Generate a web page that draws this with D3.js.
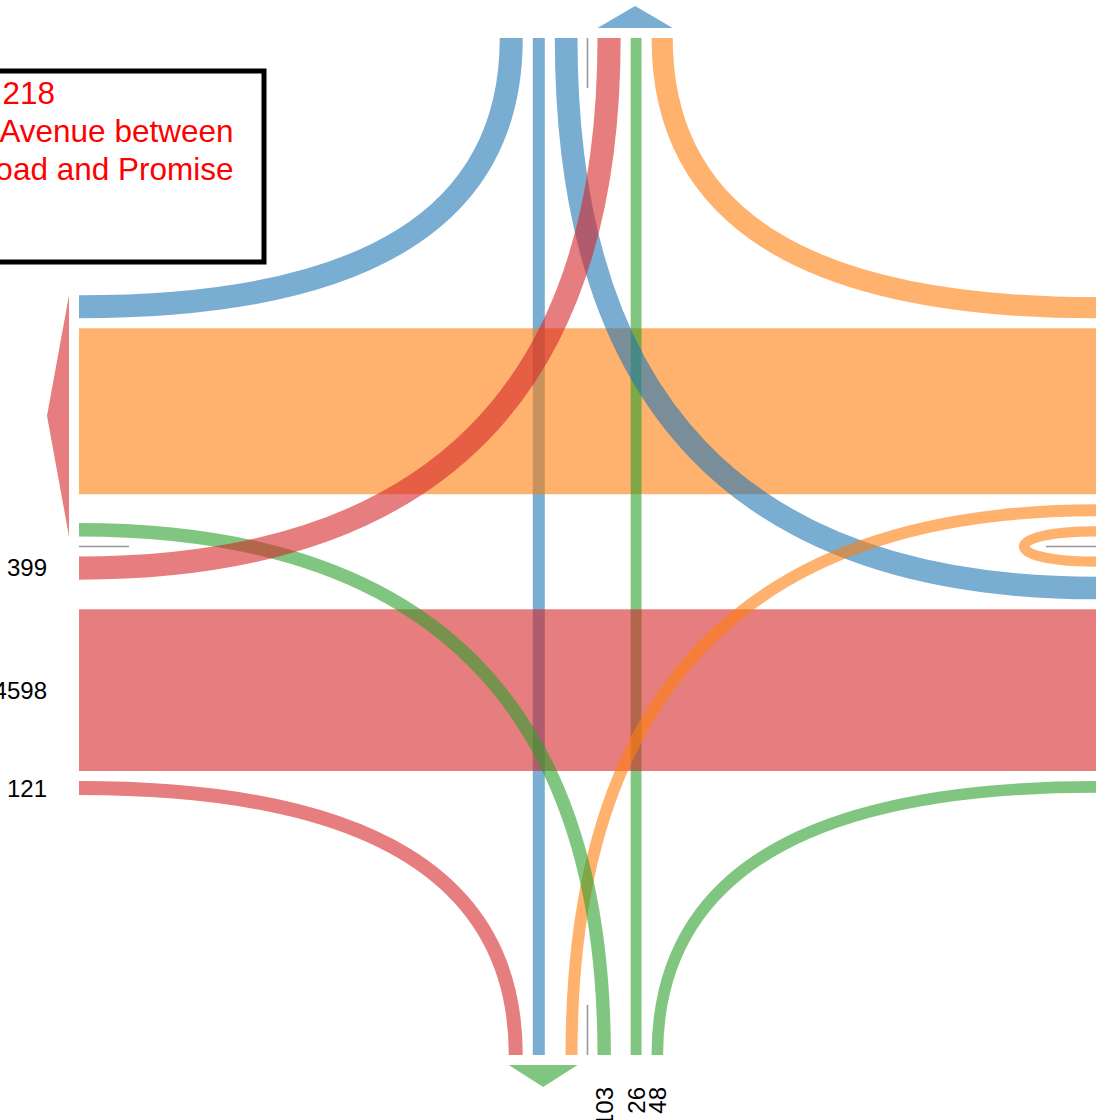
<!DOCTYPE html>
<html>
<head>
<meta charset="utf-8">
<script src="https://cdn.jsdelivr.net/npm/d3@7"></script>
<style>
html,body{margin:0;padding:0;background:#fff;overflow:hidden}
svg{display:block}
</style>
</head>
<body>
<svg id="chart" width="1102" height="1120"></svg>
<script>
// ---- data ----
const approaches = ["North", "East", "South", "West"];
const approachColors = ["#1f77b4", "#ff7f0e", "#2ca02c", "#d62728"];
const movements = ["U-turn", "Left", "Through", "Right"];
const northVolumes = [0, 385, 61, 395];
const eastVolumes = [5, 60, 4730, 340];
const southVolumes = [0, 103, 26, 48];
const westVolumes = [0, 399, 4598, 121];
const titleLines = ["218", "Avenue between", "Road and Promise"];

// ---- layout ----
const svg = d3.select("#chart");
const cx = 587.5, cy = 546.5, half = 508.5;
const X0 = cx - half, X1 = cx + half, Y0 = cy - half, Y1 = cy + half;
const pad = 10, uDepth = 96, arrowGap = 10, arrowLen = 22;
const labelGaps = [40, 32, 32, 32];
const widthScale = d3.scaleLinear().domain([0, 1000]).range([10, 43]);
const volumes = [northVolumes, eastVolumes, southVolumes, westVolumes];

const F = volumes.map((vals, a) => vals.map((v, k) => ({
  a, k, v, d: (a + k) % 4, w: v > 0 ? widthScale(v) : 0, inOff: 0, outOff: 0
})));

for (let a = 0; a < 4; a++) {
  const o = (a + 2) % 4;
  const inF = k => F[a][k];
  const outF = k => F[(o - k + 4) % 4][k];
  let offIn = pad, offOut = pad;
  for (const k of [0, 1]) {
    const fi = inF(k); if (fi.w > 0) { fi.inOff = offIn; offIn += fi.w + pad; }
    const fo = outF(k); if (fo.w > 0) { fo.outOff = offOut; offOut += fo.w + pad; }
  }
  const T = Math.max(offIn, offOut);
  const th = inF(2); th.inOff = T; th.outOff = T;
  const R = T + th.w + pad;
  inF(3).inOff = R; outF(3).outOff = R;
}

function edgePoint(edge, side, off) {
  switch (edge) {
    case 0: return side === "in" ? [cx - off, Y0] : [cx + off, Y0];
    case 1: return side === "in" ? [X1, cy - off] : [X1, cy + off];
    case 2: return side === "in" ? [cx + off, Y1] : [cx - off, Y1];
    default: return side === "in" ? [X0, cy + off] : [X0, cy - off];
  }
}
const inward = [[0, 1], [-1, 0], [0, -1], [1, 0]];
const outward = inward.map(([x, y]) => [-x, -y]);

function flowPath(f) {
  const p = edgePoint(f.a, "in", f.inOff + f.w / 2);
  const q = edgePoint(f.d, "out", f.outOff + f.w / 2);
  const path = d3.path();
  path.moveTo(p[0], p[1]);
  if (f.k === 2) path.lineTo(q[0], q[1]);
  else if (f.k === 0) {
    const [dx, dy] = inward[f.a];
    path.bezierCurveTo(p[0] + dx * uDepth, p[1] + dy * uDepth, q[0] + dx * uDepth, q[1] + dy * uDepth, q[0], q[1]);
  } else {
    const c = (f.a % 2 === 0) ? [p[0], q[1]] : [q[0], p[1]];
    path.quadraticCurveTo(c[0], c[1], q[0], q[1]);
  }
  return path.toString();
}

const all = F.flat().filter(f => f.v > 0);
const ordered = all.filter(f => f.k === 2).concat(all.filter(f => f.k !== 2));

svg.append("g").selectAll("path").data(ordered).join("path")
  .attr("d", flowPath)
  .attr("fill", "none")
  .attr("stroke", f => approachColors[f.a])
  .attr("stroke-opacity", 0.6)
  .attr("stroke-width", f => f.w)
  .attr("stroke-linecap", "butt");

// dividers
svg.append("g").selectAll("line").data(d3.range(4)).join("line")
  .each(function (a) {
    const p = edgePoint(a, "in", 0), [dx, dy] = inward[a];
    d3.select(this).attr("x1", p[0]).attr("y1", p[1]).attr("x2", p[0] + dx * 50).attr("y2", p[1] + dy * 50);
  })
  .attr("stroke", "#999").attr("stroke-width", 1.6);

// arrows
svg.append("g").selectAll("path").data(d3.range(4)).join("path")
  .attr("d", a => {
    const outs = [0, 1, 2, 3].map(k => F[(a - k + 4) % 4][k]).filter(f => f.w > 0);
    const hi = d3.max(outs, f => f.outOff + f.w), lo = pad;
    const [ox, oy] = outward[a];
    const b1 = edgePoint(a, "out", lo), b2 = edgePoint(a, "out", hi), m = edgePoint(a, "out", (lo + hi) / 2);
    const path = d3.path();
    path.moveTo(b1[0] + ox * arrowGap, b1[1] + oy * arrowGap);
    path.lineTo(b2[0] + ox * arrowGap, b2[1] + oy * arrowGap);
    path.lineTo(m[0] + ox * (arrowGap + arrowLen), m[1] + oy * (arrowGap + arrowLen));
    path.closePath();
    return path.toString();
  })
  .attr("fill", a => approachColors[a]).attr("fill-opacity", 0.6);

// labels (inbound volumes)
svg.append("g").selectAll("text").data(all).join("text")
  .attr("transform", f => {
    const p = edgePoint(f.a, "in", f.inOff + f.w / 2);
    const [ox, oy] = outward[f.a];
    const g = labelGaps[f.a];
    const x = p[0] + ox * g, y = p[1] + oy * g;
    return f.a % 2 === 0 ? `translate(${x},${y}) rotate(-90)` : `translate(${x},${y})`;
  })
  .attr("text-anchor", f => (f.a === 0 || f.a === 1) ? "start" : "end")
  .attr("dy", "0.35em")
  .attr("font-family", "'Liberation Sans', Arial, Helvetica, sans-serif")
  .attr("font-size", 24)
  .attr("fill", "#000")
  .text(f => f.v);

// title box
const tg = svg.append("g");
tg.append("rect").attr("x", -300).attr("y", 71).attr("width", 564).attr("height", 191)
  .attr("fill", "#fff").attr("stroke", "#000").attr("stroke-width", 5);
const titleX = [55, 233.5, 233.5];
const titleY = [104, 142, 179.5];
tg.selectAll("text").data(titleLines).join("text")
  .attr("x", (d, i) => titleX[i]).attr("y", (d, i) => titleY[i])
  .attr("text-anchor", "end")
  .attr("font-family", "'Liberation Sans', Arial, Helvetica, sans-serif")
  .attr("font-size", 31.5)
  .attr("fill", "#ff0000")
  .text(d => d);
</script>
</body>
</html>
